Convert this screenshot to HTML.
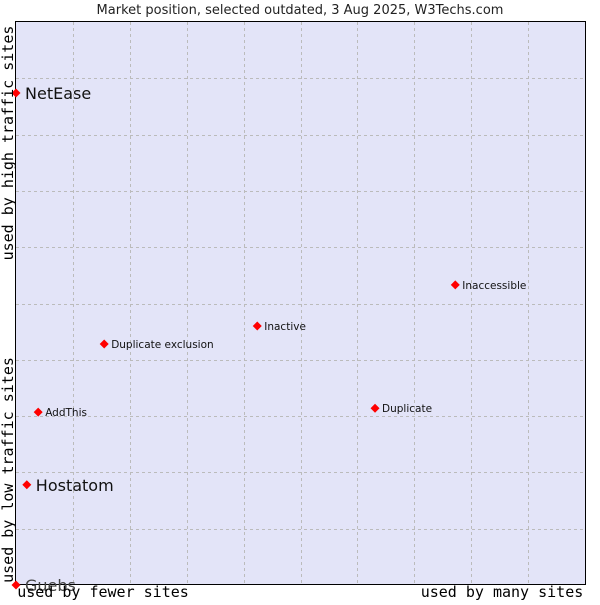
<!DOCTYPE html>
<html><head><meta charset="utf-8"><style>
body{margin:0;background:#fff}
svg text{font-family:"DejaVu Sans","Liberation Sans",sans-serif}
</style></head><body>
<svg id="c" width="600" height="600" xmlns="http://www.w3.org/2000/svg">
<text x="300" y="14" text-anchor="middle" font-size="13" fill="#222">Market position, selected outdated, 3 Aug 2025, W3Techs.com</text>
<rect x="15.5" y="21.5" width="570" height="563" fill="#e3e4f8" stroke="#000"/>
<g id="grid"></g>
<g id="pts"></g>
<text x="103" y="597" text-anchor="middle" font-size="15" fill="#000" style="font-family:'DejaVu Sans Mono',monospace">used by fewer sites</text>
<text x="502" y="597" text-anchor="middle" font-size="15" fill="#000" style="font-family:'DejaVu Sans Mono',monospace">used by many sites</text>
<text transform="translate(13,470) rotate(-90)" text-anchor="middle" font-size="15" fill="#000" style="font-family:'DejaVu Sans Mono',monospace">used by low traffic sites</text>
<text transform="translate(13,143) rotate(-90)" text-anchor="middle" font-size="15" fill="#000" style="font-family:'DejaVu Sans Mono',monospace">used by high traffic sites</text>
</svg>
<script>
const names=["NetEase","Hostatom","Guebs","AddThis","Duplicate exclusion","Inactive","Duplicate","Inaccessible"];
const xs=[0,1.9,0,3.9,15.5,42.4,63.1,77.2];
const ys=[87.4,17.8,0,30.7,42.8,46,31.4,53.3];
const big=[1,1,1,0,0,0,0,0];
const NS="http://www.w3.org/2000/svg";
const X=v=>16+v*5.69, Y=v=>585-v*5.63;
const grid=document.getElementById('grid'), pts=document.getElementById('pts');
for(let i=1;i<10;i++){
 const gx=Math.round(X(i*10))+0.5, gy=Math.round(Y(i*10))+0.5;
 const l=document.createElementNS(NS,'line');
 
 
 l.setAttribute('x1',gx);l.setAttribute('x2',gx);l.setAttribute('y1',22);l.setAttribute('y2',585);
 l.setAttribute('stroke','#bbb');l.setAttribute('stroke-dasharray','3,3');grid.appendChild(l);
 const h=document.createElementNS(NS,'line');
 
 
 h.setAttribute('x1',16);h.setAttribute('x2',585);h.setAttribute('y1',gy);h.setAttribute('y2',gy);
 h.setAttribute('stroke','#bbb');h.setAttribute('stroke-dasharray','3,3');grid.appendChild(h);
}
names.forEach((n,i)=>{
 const px=X(xs[i]),py=Y(ys[i]);
 const c=document.createElementNS(NS,'path');
 
 
 c.setAttribute('d',`M${px-4.5},${py}L${px},${py-4.5}L${px+4.5},${py}L${px},${py+4.5}Z`);
 c.setAttribute('fill','#f00');pts.appendChild(c);
 const t=document.createElementNS(NS,'text');
 
 
 t.setAttribute('x',px+(big[i]?9:7));t.setAttribute('y',py+(big[i]?6:4));
 t.setAttribute('font-size',big[i]?16:10.5);t.setAttribute('fill',big[i]&&ys[i]==0?'#444':'#111');
 t.textContent=n;pts.appendChild(t);
});
</script>
</body></html>
